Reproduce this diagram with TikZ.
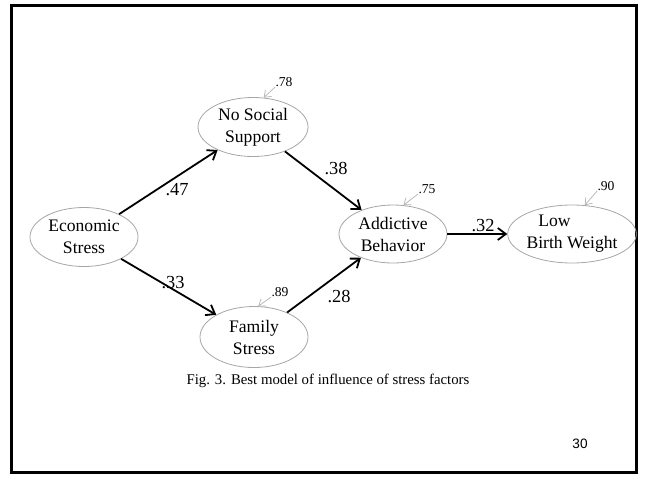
\documentclass[tikz,border=0pt]{standalone}
\usepackage{fontspec}
\setmainfont{Liberation Serif}
\newfontfamily\pagenofont{Liberation Sans}
\usetikzlibrary{arrows.meta,positioning,shapes.geometric}

\tikzset{
  var/.style={ellipse, draw=gray!70, line width=0.4pt, inner sep=0pt, align=center,
    font=\fontsize{8.8}{11}\selectfont},
  effect/.style={line width=0.9pt, -{Straight Barb[length=4pt,width=6pt,line width=0.9pt]}},
  coef/.style={inner sep=0pt, font=\fontsize{9.2}{11}\selectfont},
  resid/.style={inner sep=0pt, font=\fontsize{6.8}{8}\selectfont},
  residarr/.style={draw=gray!60, line width=0.35pt, -{Straight Barb[length=3pt,width=4.5pt]}},
}

\begin{document}
\begin{tikzpicture}[x=0.5pt, y=-0.5pt]
    \useasboundingbox (0,0) rectangle (646,477);

    % Slide frame
    \draw[line width=1.5pt] (11.5,5.5) rectangle (636.5,472);

    % Variables
    \node[var, minimum width=54pt, minimum height=29.5pt] (econ) at (84,237) {Economic\\Stress};
    \node[var, minimum width=55pt, minimum height=29.5pt] (nss) at (253,127) {No Social\\Support};
    \node[var, minimum width=54pt, minimum height=30.5pt] (fam) at (254,337) {Family\\Stress};
    \node[var, minimum width=54pt, minimum height=29pt] (addb) at (393,234) {Addictive\\Behavior};
    \node[var, minimum width=53pt, minimum height=29pt] (lbw) at (572,234) {Low\hspace*{2em}\\Birth Weight};

    % Paths
    \draw[effect] (econ) -- (nss);
    \draw[effect] (econ) -- (fam);
    \draw[effect] (nss) -- (addb);
    \draw[effect] (fam) -- (addb);
    \draw[effect] (addb) -- (lbw);

    % Path coefficients
    \node[coef] (c47) at (177,190) {.47};
    \node[coef] (c33) at (173,283) {.33};
    \node[coef] (c38) at (336,169) {.38};
    \node[coef] (c28) at (339,297) {.28};
    \node[coef] (c32) at (483,226) {.32};

    % Residuals
    \node[resid] (r78) at (284,82) {.78};
    \draw[residarr] (r78.south west) -- (nss.70);
    \node[resid] (r75) at (427,189) {.75};
    \draw[residarr] (r75.south west) -- (addb.70);
    \node[resid] (r90) at (606,186) {.90};
    \draw[residarr] (r90.south west) -- (lbw.66);
    \node[resid] (r89) at (280,292) {.89};
    \draw[residarr] (r89.south west) -- (fam.82);

    % Caption and page number
    \node[font=\fontsize{7.4}{9}\selectfont] (cap) at (328,381) {Fig. 3. Best model of influence of stress factors};
    \node[font=\pagenofont\fontsize{6.8}{8}\selectfont] (pgno) at (580,444) {30};
\end{tikzpicture}
\end{document}
